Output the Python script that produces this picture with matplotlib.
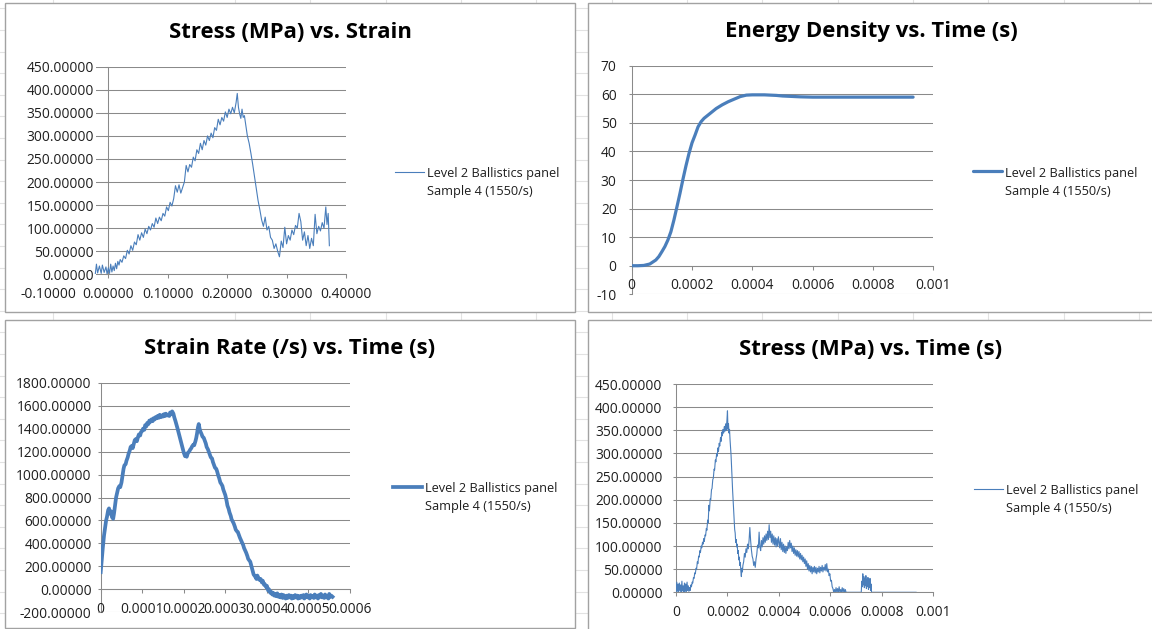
import matplotlib
matplotlib.use("Agg")
import matplotlib.pyplot as plt
from matplotlib.lines import Line2D
from matplotlib.patches import Rectangle
import numpy as np

plt.rcParams['font.family'] = ['Open Sans', 'DejaVu Sans']

W, H = 1152, 629
SERIES = "Level 2 Ballistics panel\nSample 4 (1550/s)"
BLUE = "#4A7EBB"
GRID = "#8A8A8A"
TEXT = "#1E1E1E"

# ---------------- data ----------------
# stress (MPa) against engineering strain
stress_strain_pts = [
    (-0.022, 0), (-0.020, 22), (-0.018, 3), (-0.015, 18), (-0.012, 2), (-0.010, 20),
    (-0.007, 4), (-0.004, 16), (-0.002, 0), (0.000, 14), (0.002, 2), (0.004, 22),
    (0.006, 5), (0.008, 18), (0.010, 8), (0.012, 24), (0.014, 12), (0.016, 28),
    (0.018, 20), (0.020, 32), (0.023, 26), (0.026, 40), (0.029, 34), (0.032, 52),
    (0.035, 44), (0.038, 62), (0.041, 52), (0.044, 70), (0.047, 64), (0.050, 86),
    (0.053, 74), (0.056, 90), (0.059, 80), (0.062, 98), (0.065, 88), (0.068, 104),
    (0.071, 96), (0.074, 110), (0.077, 102), (0.080, 122), (0.083, 110), (0.086, 124),
    (0.089, 116), (0.092, 132), (0.095, 126), (0.098, 146), (0.101, 138), (0.104, 156),
    (0.107, 148), (0.110, 164), (0.113, 192), (0.116, 178), (0.119, 194), (0.122, 176),
    (0.125, 188), (0.128, 200), (0.131, 236), (0.134, 222), (0.137, 238), (0.140, 232),
    (0.143, 254), (0.146, 246), (0.149, 270), (0.152, 262), (0.155, 284), (0.158, 270),
    (0.161, 290), (0.164, 280), (0.167, 300), (0.170, 290), (0.173, 306), (0.176, 296),
    (0.179, 318), (0.182, 312), (0.185, 336), (0.188, 324), (0.191, 340), (0.194, 332),
    (0.197, 352), (0.200, 340), (0.203, 358), (0.206, 348), (0.209, 362), (0.212, 350),
    (0.215, 372), (0.217, 392), (0.219, 362), (0.221, 348), (0.223, 338), (0.225, 358),
    (0.227, 340), (0.229, 344), (0.231, 326), (0.234, 300), (0.237, 284), (0.240, 262),
    (0.243, 238), (0.246, 212), (0.249, 186), (0.252, 160), (0.255, 140), (0.258, 118),
    (0.261, 104), (0.264, 124), (0.267, 96), (0.270, 104), (0.273, 80), (0.276, 74),
    (0.279, 56), (0.282, 66), (0.285, 50), (0.288, 38), (0.291, 72), (0.294, 58),
    (0.297, 102), (0.300, 66), (0.303, 84), (0.306, 74), (0.309, 96), (0.312, 86),
    (0.315, 106), (0.318, 100), (0.321, 132), (0.324, 114), (0.327, 74), (0.330, 92),
    (0.333, 62), (0.336, 84), (0.339, 56), (0.342, 78), (0.345, 62), (0.348, 130),
    (0.351, 88), (0.354, 104), (0.357, 94), (0.360, 112), (0.363, 100), (0.366, 146),
    (0.368, 108), (0.370, 132), (0.371, 96), (0.372, 62),
]

# absorbed energy density against time (time in microseconds)
energy_pts = [
    (0, 0.0), (20, 0.0), (40, 0.1), (60, 0.6), (80, 2.0), (90, 3.2), (100, 4.9),
    (110, 6.7), (120, 9.0), (130, 11.9), (140, 16.0), (150, 20.6), (160, 25.3),
    (170, 30.3), (180, 35.0), (190, 39.3), (200, 43.0), (210, 45.7), (220, 48.6),
    (230, 50.4), (240, 51.6), (260, 53.3), (280, 55.0), (300, 56.3), (320, 57.4),
    (340, 58.3), (360, 59.2), (380, 59.7), (400, 59.8), (440, 59.8), (480, 59.6),
    (500, 59.4), (520, 59.3), (560, 59.1), (600, 59.0), (700, 59.0), (800, 59.0),
    (900, 59.0), (933, 59.0),
]

# strain rate (/s) against time (time in microseconds)
strain_rate_pts = [
    (0, 150), (3, 280), (5, 360), (8, 470), (10, 520), (13, 600), (15, 630), (18, 690),
    (20, 705), (22, 660), (25, 680), (27, 630), (30, 615), (32, 660), (35, 740), (37, 800),
    (40, 850), (42, 880), (45, 900), (47, 890), (50, 930), (52, 980), (55, 1050), (57, 1080),
    (60, 1090), (62, 1120), (65, 1150), (67, 1180), (70, 1210), (72, 1240), (75, 1250),
    (77, 1230), (80, 1270), (82, 1300), (85, 1310), (87, 1290), (90, 1330), (92, 1350),
    (95, 1340), (97, 1370), (100, 1380), (102, 1400), (105, 1390), (107, 1430), (110, 1420),
    (112, 1450), (115, 1440), (117, 1470), (120, 1460), (122, 1480), (125, 1465), (127, 1490),
    (130, 1480), (132, 1500), (135, 1490), (137, 1510), (140, 1495), (142, 1520), (145, 1500),
    (147, 1515), (150, 1505), (152, 1525), (155, 1510), (157, 1530), (160, 1515), (162, 1520),
    (165, 1510), (167, 1540), (170, 1525), (172, 1550), (175, 1530), (177, 1500), (180, 1465),
    (185, 1400), (190, 1330), (195, 1260), (200, 1190), (203, 1160), (205, 1175), (207, 1155),
    (210, 1190), (213, 1200), (215, 1215), (218, 1230), (220, 1245), (223, 1260), (225, 1255),
    (228, 1290), (230, 1320), (232, 1360), (234, 1410), (236, 1440), (238, 1400), (240, 1375),
    (243, 1350), (245, 1330), (248, 1320), (250, 1300), (253, 1270), (255, 1240), (258, 1220),
    (260, 1200), (263, 1170), (265, 1150), (268, 1140), (270, 1110), (273, 1080), (275, 1060),
    (278, 1050), (280, 1030), (283, 990), (285, 970), (288, 930), (290, 920), (293, 900),
    (295, 870), (298, 840), (300, 820), (303, 770), (305, 730), (308, 700), (310, 670),
    (313, 640), (315, 610), (318, 590), (320, 575), (323, 545), (325, 520), (328, 505),
    (330, 500), (333, 470), (335, 450), (338, 425), (340, 410), (343, 385), (345, 360),
    (348, 335), (350, 320), (353, 290), (355, 265), (358, 250), (360, 240), (363, 200),
    (365, 170), (368, 130), (370, 120), (372, 110), (375, 90), (377, 120), (380, 95),
    (383, 80), (385, 90), (388, 60), (390, 75), (393, 40), (395, 45), (398, 20), (400, 30),
    (403, -10), (405, 0), (408, -30), (410, -20), (413, -45), (415, -30), (418, -55),
    (420, -40), (423, -60), (425, -35), (428, -65), (430, -50), (433, -70), (435, -45),
    (438, -75), (440, -50), (443, -65), (445, -80), (448, -55), (450, -75), (453, -50),
    (455, -70), (458, -55), (460, -80), (463, -60), (465, -75), (468, -50), (470, -70),
    (473, -55), (475, -80), (478, -60), (480, -75), (483, -55), (485, -70), (488, -50),
    (490, -80), (493, -60), (495, -45), (498, -70), (500, -55), (503, -80), (505, -50),
    (508, -70), (510, -60), (513, -75), (515, -45), (518, -70), (520, -55), (523, -80),
    (525, -50), (528, -65), (530, -40), (533, -70), (535, -55), (538, -75), (540, -45),
    (543, -70), (545, -60), (548, -80), (550, -40), (553, -65), (555, -55), (558, -65),
]

# stress (MPa) against time (time in microseconds)
stress_time_pts = [
    (0, 0), (3, 22), (5, 2), (8, 18), (10, 0), (13, 20), (15, 4), (18, 16), (20, 0),
    (23, 24), (25, 3), (28, 14), (30, 0), (33, 20), (35, 2), (38, 18), (40, 0), (43, 22),
    (45, 4), (48, 14), (50, 2), (53, 10), (55, 4), (58, 16), (60, 12), (63, 22), (65, 20),
    (68, 32), (70, 30), (73, 42), (75, 40), (78, 52), (80, 50), (83, 66), (85, 62),
    (88, 78), (90, 76), (93, 90), (95, 86), (98, 100), (100, 96), (103, 108), (105, 104),
    (108, 116), (110, 110), (113, 124), (115, 122), (118, 138), (120, 134), (123, 156),
    (125, 150), (128, 188), (130, 176), (133, 202), (135, 200), (138, 222), (140, 224),
    (143, 244), (145, 246), (148, 266), (150, 264), (153, 286), (155, 282), (158, 300),
    (160, 294), (163, 312), (165, 304), (168, 322), (170, 316), (173, 334), (175, 326),
    (178, 346), (180, 338), (183, 352), (185, 344), (188, 358), (190, 348), (193, 364),
    (195, 350), (198, 372), (200, 392), (202, 352), (204, 364), (206, 344), (208, 352),
    (210, 330), (212, 314), (214, 296), (216, 268), (218, 246), (220, 220), (222, 200),
    (224, 176), (226, 156), (228, 136), (230, 128), (232, 108), (234, 114), (236, 98),
    (238, 104), (240, 84), (242, 90), (244, 70), (246, 76), (248, 58), (250, 64),
    (252, 46), (254, 34), (256, 52), (258, 44), (260, 58), (263, 66), (266, 84), (269, 76),
    (272, 94), (275, 86), (278, 104), (281, 94), (284, 112), (287, 140), (290, 112),
    (293, 92), (296, 78), (299, 72), (302, 58), (305, 66), (308, 54), (311, 72), (314, 82),
    (317, 102), (320, 96), (323, 130), (326, 98), (329, 90), (332, 112), (335, 98),
    (338, 118), (341, 104), (344, 122), (347, 108), (350, 126), (353, 112), (356, 132),
    (359, 114), (362, 146), (365, 118), (368, 132), (371, 108), (374, 126), (377, 104),
    (380, 122), (383, 102), (386, 118), (389, 98), (392, 116), (395, 100), (398, 120),
    (400, 110), (403, 96), (406, 116), (409, 92), (412, 108), (415, 88), (418, 104),
    (421, 86), (424, 100), (427, 84), (430, 98), (433, 90), (436, 108), (439, 94),
    (442, 112), (445, 96), (448, 106), (451, 88), (454, 100), (457, 84), (460, 96),
    (463, 80), (466, 92), (469, 78), (472, 90), (475, 76), (478, 88), (481, 72), (484, 84),
    (487, 70), (490, 80), (493, 66), (496, 76), (499, 62), (502, 72), (505, 56), (508, 68),
    (511, 50), (514, 62), (517, 46), (520, 58), (523, 44), (526, 56), (529, 40), (532, 54),
    (535, 44), (538, 56), (541, 42), (544, 54), (547, 40), (550, 52), (553, 44), (556, 56),
    (559, 42), (562, 54), (565, 46), (568, 58), (571, 44), (574, 54), (577, 48), (580, 60),
    (583, 46), (586, 62), (589, 44), (592, 50), (595, 36), (598, 40), (601, 24), (604, 26),
    (607, 12), (610, 8), (613, 0), (616, 6), (619, 0), (622, 10), (625, 0), (628, 8),
    (631, 0), (634, 12), (637, 0), (640, 6), (643, 0), (646, 10), (649, 0), (652, 8),
    (655, 0), (658, 6), (661, 0), (720, 0), (722, 24), (724, 12), (726, 40), (728, 16),
    (730, 34), (732, 10), (734, 30), (736, 14), (738, 36), (740, 8), (742, 28), (744, 12),
    (746, 32), (748, 6), (750, 26), (752, 10), (754, 30), (756, 4), (758, 18), (760, 0),
    (933, 0),
]

# axis ticks
strain_ticks = [-0.1, 0.0, 0.1, 0.2, 0.3, 0.4]
strain_tick_labels = ["-0.10000", "0.00000", "0.10000", "0.20000", "0.30000", "0.40000"]
stress_ticks = [0, 50, 100, 150, 200, 250, 300, 350, 400, 450]
stress_tick_labels = ["0.00000", "50.00000", "100.00000", "150.00000", "200.00000",
                      "250.00000", "300.00000", "350.00000", "400.00000", "450.00000"]
time_ticks_1ms = [0, 0.0002, 0.0004, 0.0006, 0.0008, 0.001]
time_tick_labels_1ms = ["0", "0.0002", "0.0004", "0.0006", "0.0008", "0.001"]
energy_ticks = [-10, 0, 10, 20, 30, 40, 50, 60, 70]
energy_tick_labels = ["-10", "0", "10", "20", "30", "40", "50", "60", "70"]
time_ticks_06ms = [0, 0.0001, 0.0002, 0.0003, 0.0004, 0.0005, 0.0006]
time_tick_labels_06ms = ["0", "0.0001", "0.0002", "0.0003", "0.0004", "0.0005", "0.0006"]
rate_ticks = [-200, 0, 200, 400, 600, 800, 1000, 1200, 1400, 1600, 1800]
rate_tick_labels = ["-200.00000", "0.00000", "200.00000", "400.00000", "600.00000",
                    "800.00000", "1000.00000", "1200.00000", "1400.00000", "1600.00000",
                    "1800.00000"]

# ---------------- figure ----------------
fig = plt.figure(figsize=(W / 100, H / 100), dpi=100)
fig.patch.set_facecolor("white")

# faint worksheet cell lines behind the chart objects
for cx in [53, 235, 310, 386, 461, 536, 612, 687, 762, 838, 913, 988, 1064, 1139]:
    fig.add_artist(Line2D([cx / W, cx / W], [0, 1], transform=fig.transFigure,
                          color="#e2e2e2", lw=0.8, zorder=-3))
for ry in np.arange(8.4, H, 21.6):
    fig.add_artist(Line2D([0, 1], [1 - ry / H, 1 - ry / H], transform=fig.transFigure,
                          color="#e2e2e2", lw=0.8, zorder=-3))

# chart object frames
for (l, t, r, b) in [(4.5, 3.5, 575, 312), (588, 2.7, 1158, 312),
                     (4.5, 320, 575, 627.5), (588, 320, 1158, 645)]:
    fig.add_artist(Rectangle((l / W, 1 - b / H), (r - l) / W, (b - t) / H,
                             transform=fig.transFigure, facecolor="white",
                             edgecolor="#a2a2a2", lw=1.0, zorder=-2))

TICK_FS = 9.9
LEGEND_FS = 9.2
TITLE_FS = 15.9


def px_axes(left, top, right, bottom):
    return fig.add_axes([left / W, 1 - bottom / H, (right - left) / W, (bottom - top) / H])


def style_axes(ax, xt, xl, yt, yl, ypad, left_at_zero=False, bottom_at_zero=False):
    ax.set_xticks(xt)
    ax.set_xticklabels(xl)
    ax.set_yticks(yt)
    ax.set_yticklabels(yl)
    ax.set_facecolor("none")
    for s in ("top", "right"):
        ax.spines[s].set_visible(False)
    for s in ("left", "bottom"):
        ax.spines[s].set_color(GRID)
        ax.spines[s].set_linewidth(0.75)
        ax.spines[s].set_zorder(1.2)
    if left_at_zero:
        ax.spines["left"].set_position(("data", 0))
    if bottom_at_zero:
        ax.spines["bottom"].set_position(("data", 0))
    ax.grid(axis="y", color=GRID, linewidth=0.75)
    ax.grid(axis="x", visible=False)
    ax.tick_params(axis="x", direction="out", length=3, width=0.75, color=GRID,
                   pad=5.8, labelsize=TICK_FS, labelcolor=TEXT)
    ax.tick_params(axis="y", direction="out", length=2.5, width=0.75, color=GRID,
                   pad=ypad, labelsize=TICK_FS, labelcolor=TEXT)


def add_title(cx, cy, text):
    fig.text(cx / W, 1 - cy / H, text, ha="center", va="center",
             fontsize=TITLE_FS, fontweight="bold", color="black")


def add_legend(ax, line, x, y_line):
    top = y_line - 0.35 * LEGEND_FS * 100 / 72
    leg = ax.legend([line], [SERIES], loc="upper left",
                    bbox_to_anchor=(x / W, 1 - top / H), bbox_transform=fig.transFigure,
                    frameon=False, fontsize=LEGEND_FS, handlelength=2.3, handletextpad=0.2,
                    borderpad=0, borderaxespad=0)
    for txt in leg.get_texts():
        txt.set_linespacing(1.5)
        txt.set_color(TEXT)
    try:
        for column in leg._legend_handle_box.get_children():
            for item in column.get_children():
                item.align = "top"
    except AttributeError:
        pass


# --- Stress vs. Strain ---
ax1 = px_axes(48.9, 66.7, 346, 274.3)
eps, sig = np.array(stress_strain_pts).T
l1, = ax1.plot(eps, sig, color=BLUE, lw=0.8, zorder=2)
ax1.set_xlim(-0.1, 0.4)
ax1.set_ylim(0, 450)
style_axes(ax1, strain_ticks, strain_tick_labels, stress_ticks, stress_tick_labels,
           ypad=7.8, left_at_zero=True)
for tick in ax1.yaxis.get_major_ticks():
    tick.label1.set_bbox(dict(facecolor="white", edgecolor="none", pad=1.5))
add_title(290, 32, "Stress (MPa) vs. Strain")
add_legend(ax1, l1, 395, 171.7)

# --- Energy Density vs. Time ---
ax2 = px_axes(631.7, 65.7, 933.3, 294.3)
te, en = np.array(energy_pts).T
l2, = ax2.plot(te * 1e-6, en, color=BLUE, lw=2.3, zorder=2, solid_capstyle="round")
ax2.set_xlim(0, 0.001)
ax2.set_ylim(-10, 70)
style_axes(ax2, time_ticks_1ms, time_tick_labels_1ms, energy_ticks, energy_tick_labels,
           ypad=8.3, bottom_at_zero=True)
add_title(871, 32, "Energy Density vs. Time (s)")
add_legend(ax2, l2, 973, 171)

# --- Strain Rate vs. Time ---
ax3 = px_axes(100.7, 382.7, 350, 612.3)
tr, rate = np.array(strain_rate_pts).T
l3, = ax3.plot(tr * 1e-6, rate, color=BLUE, lw=2.7, zorder=2)
ax3.set_xlim(0, 0.0006)
ax3.set_ylim(-200, 1800)
style_axes(ax3, time_ticks_06ms, time_tick_labels_06ms, rate_ticks, rate_tick_labels,
           ypad=4.0, bottom_at_zero=True)
add_title(290, 349, "Strain Rate (/s) vs. Time (s)")
add_legend(ax3, l3, 393, 486.7)

# --- Stress vs. Time ---
ax4 = px_axes(676, 384, 933.3, 592.3)
ts, st = np.array(stress_time_pts).T
l4, = ax4.plot(ts * 1e-6, st, color=BLUE, lw=0.8, zorder=2)
ax4.set_xlim(0, 0.001)
ax4.set_ylim(0, 450)
style_axes(ax4, time_ticks_1ms, time_tick_labels_1ms, stress_ticks, stress_tick_labels,
           ypad=7.3)
add_title(871, 350, "Stress (MPa) vs. Time (s)")
add_legend(ax4, l4, 974, 488.7)

fig.savefig("out.png", dpi=100, facecolor="white")
